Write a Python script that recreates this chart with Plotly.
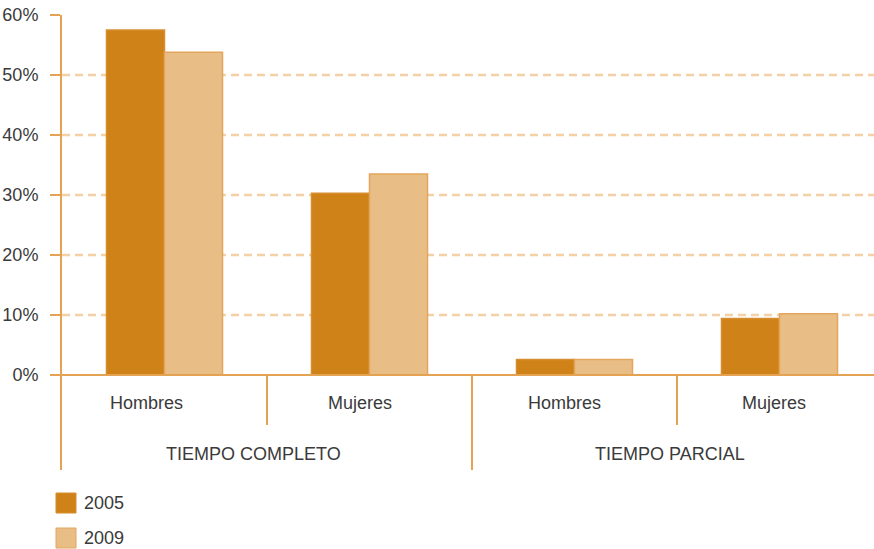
import plotly.graph_objects as go

categories = ["Hombres", "Mujeres", "Hombres", "Mujeres"]
groups = ["TIEMPO COMPLETO", "TIEMPO PARCIAL"]
series_names = ["2005", "2009"]
values_2005 = [57.5, 30.3, 2.6, 9.4]
values_2009 = [53.8, 33.5, 2.6, 10.2]
y_ticks = [0, 10, 20, 30, 40, 50, 60]
y_tick_labels = ["0%", "10%", "20%", "30%", "40%", "50%", "60%"]

C_DARK = "#CE8217"
C_LIGHT = "#E9BD86"
C_AXIS = "#E4A352"
C_GRID = "#F3D0A5"
C_TEXT = "#3A3A3A"
FONT = "Liberation Sans"

n = len(categories)
x = list(range(n))
y_min = -95 / 6  # bottom of plot area (below baseline) in data units

fig = go.Figure()
fig.add_trace(go.Bar(x=x, y=values_2005, name=series_names[0],
                     marker=dict(color=C_DARK, line=dict(color="#D68E30", width=1.5))))
fig.add_trace(go.Bar(x=x, y=values_2009, name=series_names[1],
                     marker=dict(color=C_LIGHT, line=dict(color="#E3A65C", width=1.5))))

shapes = []
# dashed gridlines (not at 0 and top)
for v in y_ticks[1:-1]:
    shapes.append(dict(type="line", xref="paper", yref="y", x0=0, x1=1, y0=v, y1=v,
                       line=dict(color=C_GRID, width=2.5, dash="8px,5px"), layer="below"))
# baseline
shapes.append(dict(type="line", xref="paper", yref="y", x0=0, x1=1, y0=0, y1=0,
                   line=dict(color=C_AXIS, width=2), layer="above"))
# category separators
for i in range(n - 1):
    is_group = (i + 1) % 2 == 0
    shapes.append(dict(type="line", xref="x", yref="y", x0=i + 0.5, x1=i + 0.5,
                       y0=0, y1=(y_min if is_group else -50 / 6),
                       line=dict(color=C_AXIS, width=2), layer="above"))

annotations = []
cat_shift = [-18, -10, -10, -6]
for i, c in enumerate(categories):
    annotations.append(dict(x=i, y=-28 / 6, xref="x", yref="y", text=c, showarrow=False,
                            xshift=cat_shift[i], font=dict(family=FONT, size=18, color=C_TEXT)))
grp_shift = [-14, -7]
for g, name in enumerate(groups):
    annotations.append(dict(x=2 * g + 0.5, y=-79 / 6, xref="x", yref="y", text=name,
                            showarrow=False, xshift=grp_shift[g],
                            font=dict(family=FONT, size=18, color=C_TEXT)))

# custom legend (pixel -> paper conversion)
L, R, T, B = 62, 0, 15, 79
W, H = 874, 549
pw, ph = W - L - R, H - T - B
def px(xp): return (xp - L) / pw
def py(yp): return (H - B - yp) / ph
for k, (name, col, lc) in enumerate(zip(series_names, [C_DARK, C_LIGHT], ["#D68E30", "#E3A65C"])):
    top = 493 + 35 * k
    shapes.append(dict(type="rect", xref="paper", yref="paper",
                       x0=px(56), x1=px(76), y0=py(top), y1=py(top + 20),
                       fillcolor=col, line=dict(color=lc, width=1)))
    annotations.append(dict(x=px(82), y=py(top + 10), xref="paper", yref="paper", text=name,
                            showarrow=False, xanchor="left", yanchor="middle",
                            font=dict(family=FONT, size=18, color=C_TEXT)))

fig.update_layout(
    width=W, height=H,
    margin=dict(l=L, r=R, t=T, b=B, pad=0),
    paper_bgcolor="white", plot_bgcolor="white",
    barmode="group", bargap=0.434, bargroupgap=0,
    showlegend=False,
    shapes=shapes, annotations=annotations,
    font=dict(family=FONT, size=18, color=C_TEXT),
    xaxis=dict(range=[-0.5, (W - L - R) / 205 - 0.5], showticklabels=False, showgrid=False,
               zeroline=False, showline=False, ticks=""),
    yaxis=dict(range=[y_min, 60], tickvals=y_ticks, ticktext=y_tick_labels,
               showgrid=False, zeroline=False, showline=True, linecolor=C_AXIS, linewidth=2,
               ticks="outside", ticklen=10, tickwidth=2, tickcolor=C_AXIS,
               ticklabelstandoff=8,
               tickfont=dict(family=FONT, size=18, color=C_TEXT)),
)

fig.write_html("out.html", config={"displayModeBar": False},
               post_script="document.body.style.margin='0';document.body.style.overflow='hidden';")
